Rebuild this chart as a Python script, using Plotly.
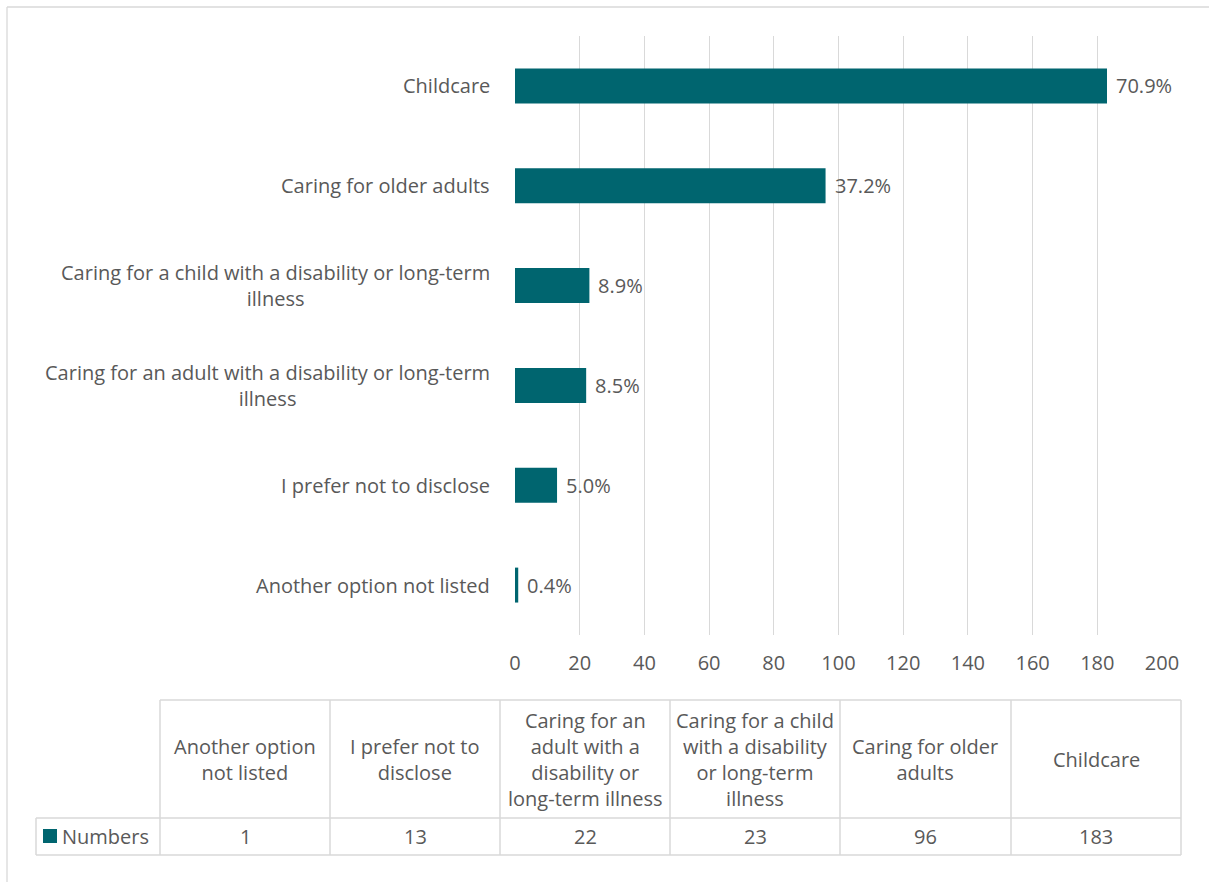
import plotly.graph_objects as go

# ---- data ----
categories = [
    "Another option not listed",
    "I prefer not to disclose",
    "Caring for an adult with a disability or long-term illness",
    "Caring for a child with a disability or long-term illness",
    "Caring for older adults",
    "Childcare",
]
axis_labels = [
    "Another option not listed",
    "I prefer not to disclose",
    "Caring for an adult with a disability or long-term<br>illness",
    "Caring for a child with a disability or long-term<br>illness",
    "Caring for older adults",
    "Childcare",
]
table_headers = [
    "Another option<br>not listed",
    "I prefer not to<br>disclose",
    "Caring for an<br>adult with a<br>disability or<br>long-term illness",
    "Caring for a child<br>with a disability<br>or long-term<br>illness",
    "Caring for older<br>adults",
    "Childcare",
]
numbers = [1, 13, 22, 23, 96, 183]
percent_labels = ["0.4%", "5.0%", "8.5%", "8.9%", "37.2%", "70.9%"]
series_name = "Numbers"

# ---- style ----
W, H = 1209, 882
BAR = "#00656F"
TXT = "#595959"
GRID = "#D9D9D9"
FONT = "Open Sans"
FS = 20


def px(x):
    return x / W


def py(y):
    return 1 - y / H


fig = go.Figure()
fig.add_trace(go.Bar(
    x=numbers, y=categories, orientation="h",
    marker=dict(color=BAR, line=dict(width=0)),
    width=0.35, name=series_name, showlegend=False, hoverinfo="x+y",
))

annotations = []
# category labels
for cat, lab in zip(categories, axis_labels):
    annotations.append(dict(
        x=px(492), xref="paper", y=cat, yref="y", text=lab, showarrow=False,
        xanchor="right", yanchor="middle", align="center",
        font=dict(family=FONT, size=FS, color=TXT),
    ))
# value labels
for cat, v, lab in zip(categories, numbers, percent_labels):
    annotations.append(dict(
        x=v, xref="x", y=cat, yref="y", text=lab, showarrow=False,
        xanchor="left", yanchor="middle", xshift=7,
        font=dict(family=FONT, size=FS, color=TXT),
    ))

shapes = []
# outer chart border (top and left edges visible)
border = dict(color=GRID, width=1.3)
shapes.append(dict(type="line", xref="paper", yref="paper",
                   x0=px(7), x1=1, y0=py(7), y1=py(7), line=border))
shapes.append(dict(type="line", xref="paper", yref="paper",
                   x0=px(7), x1=px(7), y0=py(7), y1=0, line=border))

# data table
col_edges = [160, 330, 500, 670, 840, 1011, 1181]
top, mid, bot, leg_left = 700, 818, 855, 36
line_style = dict(color=GRID, width=1.5)
shapes.append(dict(type="line", xref="paper", yref="paper", x0=px(160), x1=px(1181),
                   y0=py(top), y1=py(top), line=line_style))
for yy in (mid, bot):
    shapes.append(dict(type="line", xref="paper", yref="paper", x0=px(leg_left), x1=px(1181),
                       y0=py(yy), y1=py(yy), line=line_style))
for xx in col_edges:
    shapes.append(dict(type="line", xref="paper", yref="paper", x0=px(xx), x1=px(xx),
                       y0=py(top), y1=py(bot), line=line_style))
shapes.append(dict(type="line", xref="paper", yref="paper", x0=px(leg_left), x1=px(leg_left),
                   y0=py(mid), y1=py(bot), line=line_style))

for i, (hdr, n) in enumerate(zip(table_headers, numbers)):
    cx = (col_edges[i] + col_edges[i + 1]) / 2
    annotations.append(dict(
        x=px(cx), y=py((top + mid) / 2), xref="paper", yref="paper", text=hdr,
        showarrow=False, xanchor="center", yanchor="middle", align="center",
        font=dict(family=FONT, size=FS, color=TXT),
    ))
    annotations.append(dict(
        x=px(cx), y=py((mid + bot) / 2), xref="paper", yref="paper", text=str(n),
        showarrow=False, xanchor="center", yanchor="middle", align="center",
        font=dict(family=FONT, size=FS, color=TXT),
    ))

# legend key in table
shapes.append(dict(type="rect", xref="paper", yref="paper",
                   x0=px(43), x1=px(57), y0=py(829), y1=py(843),
                   fillcolor=BAR, line=dict(width=0)))
annotations.append(dict(
    x=px(60), y=py((mid + bot) / 2), xref="paper", yref="paper", text=series_name,
    showarrow=False, xanchor="left", yanchor="middle",
    font=dict(family=FONT, size=FS, color=TXT),
))

fig.update_layout(
    width=W, height=H,
    margin=dict(l=0, r=0, t=0, b=0, autoexpand=False),
    paper_bgcolor="white", plot_bgcolor="white",
    font=dict(family=FONT, size=FS, color=TXT),
    xaxis=dict(domain=[px(515), px(1162)], range=[0, 200], dtick=20,
               showgrid=True, gridcolor=GRID, gridwidth=1.3, zeroline=False,
               showline=False, ticks="", ticklabelstandoff=14, automargin=False,
               tickfont=dict(family=FONT, size=FS, color=TXT), fixedrange=True),
    yaxis=dict(domain=[py(635), py(36)], type="category", categoryorder="array",
               categoryarray=categories, range=[-0.5, 5.5], automargin=False,
               showticklabels=False, showgrid=False, zeroline=False, showline=False,
               ticks="", fixedrange=True),
    bargap=0.65,
    shapes=shapes,
    annotations=annotations,
)

fig.write_html(
    "out.html",
    config={"displayModeBar": False, "responsive": False},
    post_script="document.body.style.margin='0';document.body.style.overflow='hidden';",
)
